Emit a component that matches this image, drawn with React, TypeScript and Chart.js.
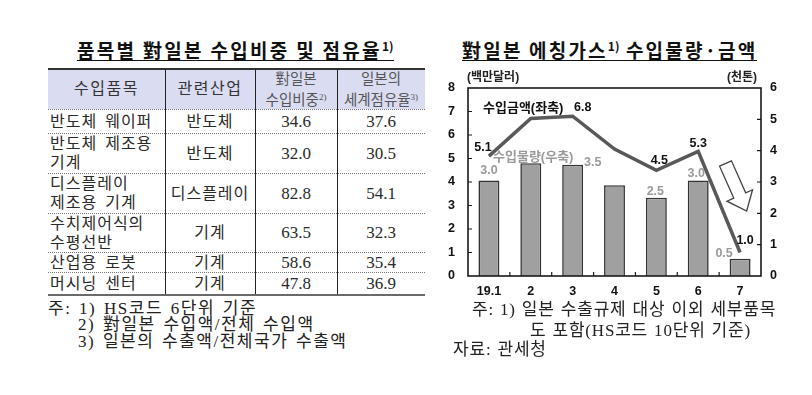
import React, { useEffect, useRef } from "react";
import { Chart, registerables } from "chart.js";

Chart.register(...registerables);

// ---------- chart data ----------
const months = ["19.1", "2", "3", "4", "5", "6", "7"];
const importAmount = [5.1, 6.7, 6.8, 5.4, 4.5, 5.3, 1.0]; // 백만달러 (left axis)
const importVolume = [3.05, 3.6, 3.55, 2.9, 2.5, 3.05, 0.55]; // 천톤 (right axis)
const amountLabels = ["5.1", "", "6.8", "", "4.5", "5.3", "1.0"];
const volumeLabels = ["3.0", "", "3.5", "", "2.5", "3.0", "0.5"];
const amountSeriesName = "수입금액(좌축)";
const volumeSeriesName = "수입물량(우축)";
const leftUnit = "(백만달러)";
const rightUnit = "(천톤)";
const leftMax = 8;
const rightMax = 6;

// ---------- table data ----------
const headerCells = [["수입품목"], ["관련산업"], ["對일본", "수입비중"], ["일본의", "세계점유율"]];
const headerSups = ["", "", "2)", "3)"];
const itemNames = [
  ["반도체 웨이퍼"],
  ["반도체 제조용", "기계"],
  ["디스플레이", "제조용 기계"],
  ["수치제어식의", "수평선반"],
  ["산업용 로봇"],
  ["머시닝 센터"],
];
const industries = ["반도체", "반도체", "디스플레이", "기계", "기계", "기계"];
const importShare = ["34.6", "32.0", "82.8", "63.5", "58.6", "47.8"];
const worldShare = ["37.6", "30.5", "54.1", "32.3", "35.4", "36.9"];

const leftTitle = "품목별 對일본 수입비중 및 점유율";
const rightTitle = "對일본 에칭가스";
const rightTitle2 = " 수입물량·금액";
const leftNotes = ["주: 1) HS코드 6단위 기준", "2) 對일본 수입액/전체 수입액", "3) 일본의 수출액/전체국가 수출액"];
const rightNotes = ["주: 1) 일본 수출규제 대상 이외 세부품목", "도 포함(HS코드 10단위 기준)", "자료: 관세청"];

// label offsets (style only)
const amountLabelOffsets = [[-6, -9], [0, 0], [10, -9], [0, 0], [3, -10], [0, -8], [5, -12]];
const volumeLabelOffsets = [[0, -10], [0, 0], [20, -2], [0, 0], [-1, -6], [-2, -7], [-16, -5]];

const TICK_FONT = { family: '"Liberation Sans", Arial, "Noto Sans CJK KR", sans-serif', size: 12.5, weight: "bold" as const };

const decorations = {
  id: "decorations",
  afterDatasetsDraw(chart: any) {
    const { ctx, chartArea: a, scales } = chart;
    ctx.save();
    // frame
    ctx.strokeStyle = "#1a1a1a";
    ctx.lineWidth = 1.6;
    ctx.strokeRect(a.left, a.top, a.right - a.left, a.bottom - a.top);
    // inward ticks
    ctx.lineWidth = 1.2;
    ctx.beginPath();
    for (let v = 1; v < leftMax; v++) {
      const y = scales.y.getPixelForValue(v);
      ctx.moveTo(a.left, y);
      ctx.lineTo(a.left + 4, y);
    }
    for (let v = 1; v < rightMax; v++) {
      const y = scales.y2.getPixelForValue(v);
      ctx.moveTo(a.right, y);
      ctx.lineTo(a.right - 4, y);
    }
    for (let i = 1; i < months.length; i++) {
      const x = (scales.x.getPixelForValue(i - 1) + scales.x.getPixelForValue(i)) / 2;
      ctx.moveTo(x, a.bottom);
      ctx.lineTo(x, a.bottom - 4);
    }
    ctx.stroke();

    // data labels
    ctx.font = 'bold 12.5px "Liberation Sans", Arial, sans-serif';
    ctx.textAlign = "center";
    ctx.textBaseline = "middle";
    const barMeta = chart.getDatasetMeta(0);
    const lineMeta = chart.getDatasetMeta(1);
    ctx.fillStyle = "#9a9a9a";
    barMeta.data.forEach((el: any, i: number) => {
      if (!volumeLabels[i]) return;
      const [dx, dy] = volumeLabelOffsets[i];
      ctx.fillText(volumeLabels[i], el.x + dx, el.y + dy);
    });
    ctx.fillStyle = "#111";
    lineMeta.data.forEach((el: any, i: number) => {
      if (!amountLabels[i]) return;
      const [dx, dy] = amountLabelOffsets[i];
      ctx.fillText(amountLabels[i], el.x + dx, el.y + dy);
    });

    // series names
    ctx.textAlign = "left";
    ctx.font = 'bold 13px "Liberation Sans", "Noto Sans CJK KR", sans-serif';
    ctx.fillStyle = "#111";
    ctx.fillText(amountSeriesName, a.left + 15, a.top + 20);
    ctx.fillStyle = "#9a9a9a";
    ctx.fillText(volumeSeriesName, a.left + 25, a.top + 69.5);

    // units
    ctx.font = 'bold 12px "Liberation Sans", "Noto Sans CJK KR", sans-serif';
    ctx.fillStyle = "#222";
    ctx.fillText(leftUnit, a.left - 1, a.top - 10);
    ctx.textAlign = "right";
    ctx.fillText(rightUnit, a.right - 4, a.top - 10);

    // hollow arrow
    ctx.translate(a.left + 257.5, a.top + 75.5);
    ctx.rotate((-24 * Math.PI) / 180);
    const sw = 6.5, hw = 14, sl = 35, hl = 17;
    ctx.beginPath();
    ctx.moveTo(-sw, 0);
    ctx.lineTo(sw, 0);
    ctx.lineTo(sw, sl);
    ctx.lineTo(hw, sl);
    ctx.lineTo(0, sl + hl);
    ctx.lineTo(-hw, sl);
    ctx.lineTo(-sw, sl);
    ctx.closePath();
    ctx.fillStyle = "#fff";
    ctx.fill();
    ctx.strokeStyle = "#444";
    ctx.lineWidth = 1.3;
    ctx.stroke();
    ctx.restore();
  },
};

function EtchingChart() {
  const ref = useRef<HTMLCanvasElement | null>(null);
  useEffect(() => {
    if (!ref.current) return;
    const chart = new Chart(ref.current, {
      type: "bar",
      data: {
        labels: months,
        datasets: [
          {
            type: "bar",
            label: volumeSeriesName,
            data: importVolume,
            yAxisID: "y2",
            backgroundColor: "#a0a0a0",
            borderColor: "#333",
            borderWidth: 1.6,
            barPercentage: 0.5,
            categoryPercentage: 1,
            order: 1,
          } as any,
          {
            type: "line",
            label: amountSeriesName,
            data: importAmount,
            yAxisID: "y",
            borderColor: "#595959",
            borderWidth: 3.5,
            pointRadius: 0,
            tension: 0,
            order: 0,
          } as any,
        ],
      },
      options: {
        animation: false,
        responsive: false,
        maintainAspectRatio: false,
        layout: { padding: { top: 28, left: 0, right: 0, bottom: 0 } },
        plugins: { legend: { display: false }, tooltip: { enabled: false }, title: { display: false } },
        scales: {
          x: {
            grid: { display: false, drawTicks: false },
            border: { display: false },
            ticks: { color: "#111", font: TICK_FONT, padding: 8, maxRotation: 0 },
            afterFit: (s: any) => { s.height = 24; },
          },
          y: {
            position: "left",
            min: 0,
            max: leftMax,
            grid: { display: false, drawTicks: false },
            border: { display: false },
            ticks: { stepSize: 1, color: "#111", font: TICK_FONT, padding: 13 },
            afterFit: (s: any) => { s.width = 28; },
          },
          y2: {
            position: "right",
            min: 0,
            max: rightMax,
            grid: { display: false, drawTicks: false },
            border: { display: false },
            ticks: { stepSize: 1, color: "#111", font: TICK_FONT, padding: 9 },
            afterFit: (s: any) => { s.width = 51; },
          },
        },
      } as any,
      plugins: [decorations],
    });
    return () => chart.destroy();
  }, []);
  return (
    <canvas
      ref={ref}
      width={372}
      height={240}
      style={{ position: "absolute", left: 440, top: 60, width: 372, height: 240 }}
    />
  );
}

const SERIF = '"Liberation Serif", "Noto Sans CJK KR", serif';
const HEAD = '"Noto Sans CJK KR", "Liberation Sans", sans-serif';

function Table() {
  const colX = [48, 165, 255, 337, 425];
  const rowY = [69, 109, 133, 173, 213, 252, 272, 295];
  const cells: React.ReactNode[] = [];
  // header
  headerCells.forEach((lines, c) => {
    const small = lines.length > 1;
    cells.push(
      <div
        key={"h" + c}
        style={{
          position: "absolute",
          left: colX[c],
          top: rowY[0],
          width: colX[c + 1] - colX[c],
          height: rowY[1] - rowY[0],
          display: "flex",
          flexDirection: "column",
          alignItems: "center",
          justifyContent: "center",
          fontSize: small ? 14.5 : 16,
          lineHeight: small ? "18px" : "20px",
          color: small ? "#555" : "#333",
          letterSpacing: small ? 0 : 1.5,
        }}
      >
        {lines.map((t, i) => (
          <div key={i} style={{ whiteSpace: "nowrap" }}>
            {t}
            {i === lines.length - 1 && headerSups[c] ? (
              <sup style={{ fontSize: 9, verticalAlign: "5px", letterSpacing: 0 }}>{headerSups[c]}</sup>
            ) : null}
          </div>
        ))}
      </div>
    );
  });
  itemNames.forEach((name, r) => {
    const top = rowY[r + 1];
    const h = rowY[r + 2] - top;
    const row = [name, [industries[r]], [importShare[r]], [worldShare[r]]];
    row.forEach((lines, c) => {
      cells.push(
        <div
          key={"c" + r + "_" + c}
          style={{
            position: "absolute",
            left: colX[c] + (c === 0 ? 2 : 0),
            top,
            width: colX[c + 1] - colX[c] - (c === 0 ? 2 : 0),
            height: h,
            display: "flex",
            flexDirection: "column",
            alignItems: c === 0 ? "flex-start" : "center",
            justifyContent: "center",
            fontSize: c >= 2 ? 17 : 16,
            lineHeight: "19px",
            letterSpacing: c >= 2 ? 0 : 1,
            wordSpacing: 3,
            color: "#2a2a2a",
          }}
        >
          {lines.map((t, i) => (
            <div key={i} style={{ whiteSpace: "nowrap" }}>{t}</div>
          ))}
        </div>
      );
    });
  });
  return (
    <div style={{ fontFamily: SERIF }}>
      <div style={{ position: "absolute", left: colX[0], top: rowY[0], width: colX[4] - colX[0], height: rowY[1] - rowY[0], background: "#dadcf1" }} />
      {cells}
      <div style={{ position: "absolute", left: colX[0], top: rowY[0] - 1, width: colX[4] - colX[0], height: 2, background: "#333" }} />
      <div style={{ position: "absolute", left: colX[0], top: rowY[1], width: colX[4] - colX[0], borderTop: "1px dotted #777" }} />
      {rowY.slice(2, 7).map((y, i) => (
        <div key={"hl" + i} style={{ position: "absolute", left: colX[0], top: y, width: colX[4] - colX[0], borderTop: "1px dotted #777" }} />
      ))}
      {colX.slice(1, 4).map((x, i) => (
        <div key={"vl" + i} style={{ position: "absolute", left: x, top: rowY[0], height: rowY[7] - rowY[0], borderLeft: "1.3px solid #222" }} />
      ))}
      <div style={{ position: "absolute", left: colX[0], top: rowY[7] - 1, width: colX[4] - colX[0], height: 2, background: "#6a6a6a" }} />
    </div>
  );
}

function Line({ text, left, cy, size = 17, ls = 0.5, ws = 2 }: any) {
  return (
    <div
      style={{
        position: "absolute",
        left,
        top: cy - 11,
        height: 22,
        lineHeight: "22px",
        fontSize: size,
        fontFamily: SERIF,
        letterSpacing: ls,
        wordSpacing: ws,
        color: "#222",
        whiteSpace: "nowrap",
      }}
    >
      {text}
    </div>
  );
}

const supStyle = { fontSize: 12, fontWeight: 700, verticalAlign: "7px", letterSpacing: 0 } as const;

export default function App() {
  return (
    <div style={{ position: "absolute", left: 0, top: 0, width: 812, height: 395, background: "#fff", overflow: "hidden" }}>
      {/* left title */}
      <div
        style={{
          position: "absolute",
          left: 77,
          top: 35,
          fontFamily: HEAD,
          fontWeight: 700,
          fontSize: 19,
          lineHeight: "21px",
          letterSpacing: 2.3,
          color: "#111",
          whiteSpace: "nowrap",
          borderBottom: "1.6px solid #111",
        }}
      >
        {leftTitle}
        <sup style={supStyle}>1)</sup>
      </div>
      {/* right title */}
      <div
        style={{
          position: "absolute",
          left: 462,
          top: 35,
          fontFamily: HEAD,
          fontWeight: 700,
          fontSize: 19,
          lineHeight: "21px",
          letterSpacing: 2.2,
          color: "#111",
          whiteSpace: "nowrap",
          borderBottom: "1.6px solid #111",
        }}
      >
        {rightTitle}
        <sup style={supStyle}>1)</sup>
        {rightTitle2}
      </div>
      <Table />
      <Line text={leftNotes[0]} left={48} cy={309} ls={1.5} ws={2} />
      <Line text={leftNotes[1]} left={78} cy={325} ls={1.5} ws={2} />
      <Line text={leftNotes[2]} left={78} cy={342} ls={1.5} ws={2} />
      <EtchingChart />
      <Line text={rightNotes[0]} left={472} cy={310} ls={0.8} ws={1} />
      <Line text={rightNotes[1]} left={530} cy={331} ls={0.8} ws={1} />
      <Line text={rightNotes[2]} left={453} cy={350} ls={0.8} ws={1} />
    </div>
  );
}
